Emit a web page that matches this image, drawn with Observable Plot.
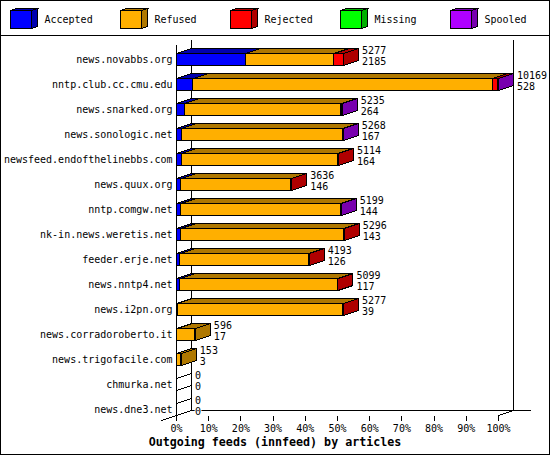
<!DOCTYPE html>
<html><head><meta charset="utf-8">
<script src="https://cdn.jsdelivr.net/npm/d3@7"></script>
<script src="https://cdn.jsdelivr.net/npm/@observablehq/plot@0.6"></script>
<style>
html,body{margin:0;padding:0;background:#fff}
#page{position:relative;width:550px;height:455px;overflow:hidden;font-family:"DejaVu Sans Mono",monospace;color:#000;outline:1px solid #000;outline-offset:-1px}
#legend{position:absolute;left:0;top:0;width:550px;height:36px;border-bottom:1px solid #000;box-sizing:border-box}
.item{position:absolute;top:0;height:35px;font-size:10px}
.item svg{position:absolute;left:0;top:0}
.item span{position:absolute;left:34.5px;top:14px;line-height:12px;white-space:nowrap}
#chart{position:absolute;left:0;top:36px}
#chart svg{display:block;background:transparent}
#title{position:absolute;left:0;width:550px;top:435px;text-align:center;font-size:11.67px;font-weight:bold;line-height:14px}
</style></head>
<body><div id="page"><div id="legend"></div><div id="chart"></div><div id="title"></div></div>
<script>
const hosts = ["news.novabbs.org","nntp.club.cc.cmu.edu","news.snarked.org","news.sonologic.net","newsfeed.endofthelinebbs.com","news.quux.org","nntp.comgw.net","nk-in.news.weretis.net","feeder.erje.net","news.nntp4.net","news.i2pn.org","news.corradoroberto.it","news.trigofacile.com","chmurka.net","news.dne3.net"];
const offered  = [5277,10169,5235,5268,5114,3636,5199,5296,4193,5099,5277,596,153,0,0];
const accepted = [2185,528,264,167,164,146,144,143,126,117,39,17,3,0,0];
const rejected = [300,170,0,0,15,10,0,10,8,12,10,0,0,0,0];
const missing  = [0,0,0,0,0,0,0,0,0,0,0,0,0,0,0];
const spooled  = [0,12,35,20,0,0,12,0,0,0,0,0,0,0,0];
const categories = ["Accepted","Refused","Rejected","Missing","Spooled"];
const faceColors = ["#0000ff","#ffaf00","#ff0000","#00ff00","#af00ff"];
const shadeColors = ["#0000af","#af7800","#af0000","#00af00","#7800af"];
const xTicks = [0,10,20,30,40,50,60,70,80,90,100];
const titleText = "Outgoing feeds (innfeed) by articles";

const maxOffered = d3.max(offered);
const pct = v => v / maxOffered * 100;
const depthX = 15 / 3.22, depthY = 0.2, half = 0.24;

const fronts = [], faces = [], labels = [];
hosts.forEach((host, row) => {
  const refused = offered[row] - accepted[row] - rejected[row] - missing[row] - spooled[row];
  const vals = [accepted[row], refused, rejected[row], missing[row], spooled[row]];
  let cum = 0, lastCat = -1, end = 0;
  vals.forEach((v, cat) => {
    if (v <= 0) return;
    const x1 = pct(cum), x2 = pct(cum + v);
    cum += v; lastCat = cat; end = x2;
    fronts.push({row, x1, x2, fill: faceColors[cat]});
    const id = `top-${row}-${cat}`, t = row - half;
    [[x1,t],[x2,t],[x2+depthX,t-depthY],[x1+depthX,t-depthY],[x1,t]].forEach(([x,y]) =>
      faces.push({id, x, y, fill: shadeColors[cat]}));
  });
  const id = `side-${row}`, t = row - half, b = row + half;
  [[end,t],[end+depthX,t-depthY],[end+depthX,b-depthY],[end,b],[end,t]].forEach(([x,y]) =>
    faces.push({id, x, y, fill: lastCat >= 0 ? shadeColors[lastCat] : "none"}));
  labels.push({row, host, x: end + depthX, a: String(offered[row]), b: String(accepted[row])});
});

const bottomY = 14 + half, backBottom = bottomY - depthY, mono = "DejaVu Sans Mono, monospace";
const chart = Plot.plot({
  width: 550, height: 398,
  marginLeft: 176, marginRight: 52, marginTop: 0, marginBottom: 18,
  style: {fontFamily: mono, fontSize: "10px", color: "#000", background: "transparent"},
  x: {domain: [0,100], range: [176,498]},
  y: {domain: [0,14], range: [23,373], axis: null},
  marks: [
    Plot.ruleX([depthX, 100 + depthX], {y1: -0.76, y2: backBottom, stroke: "#000", shapeRendering: "crispEdges"}),
    Plot.ruleY([backBottom], {x1: depthX, x2: 110.4, stroke: "#000", shapeRendering: "crispEdges"}),
    Plot.line([[-4.66, bottomY + depthY],[depthX, backBottom]], {x: d => d[0], y: d => d[1], stroke: "#000", strokeWidth: 1, shapeRendering: "crispEdges"}),
    Plot.line([[100, bottomY],[100 + depthX, backBottom]], {x: d => d[0], y: d => d[1], stroke: "#000", strokeWidth: 1, shapeRendering: "crispEdges"}),
    Plot.line(faces, {x: "x", y: "y", z: "id", fill: "fill", stroke: "#000", strokeWidth: 1, curve: "linear", shapeRendering: "crispEdges"}),
    Plot.rect(fronts, {x1: "x1", x2: "x2", y1: d => d.row - half, y2: d => d.row + half, fill: "fill", stroke: "#000", shapeRendering: "crispEdges"}),
    Plot.ruleX([0], {y1: -0.58, y2: bottomY, stroke: "#000", shapeRendering: "crispEdges"}),
    Plot.axisX(xTicks, {anchor: "bottom", tickSize: 5, tickPadding: 3, tickFormat: d => d + "%", label: null, fontSize: 10, shapeRendering: "crispEdges"}),
    Plot.text(labels, {x: 0, y: "row", text: "host", textAnchor: "end", dx: -4, fontSize: 10, fill: "#000"}),
    Plot.text(labels, {x: "x", y: "row", text: "a", textAnchor: "start", dx: 3.5, dy: -9, fontSize: 10, fill: "#000"}),
    Plot.text(labels, {x: "x", y: "row", text: "b", textAnchor: "start", dx: 3.5, dy: 2, fontSize: 10, fill: "#000", stroke: "#fff", strokeWidth: 2, paintOrder: "stroke"})
  ]
});
document.getElementById("chart").appendChild(chart);
document.getElementById("title").textContent = titleText;
const legend = document.getElementById("legend");
categories.forEach((name, i) => {
  const el = document.createElement("div");
  el.className = "item";
  el.style.left = (10 + i * 110) + "px";
  el.style.width = "100px";
  el.innerHTML = `<svg width="40" height="35" shape-rendering="crispEdges">
    <polygon points="0.5,10.5 6.5,8.5 28.5,8.5 22.5,10.5" fill="${shadeColors[i]}" stroke="#000"/>
    <polygon points="21.5,10.5 27.5,8.5 27.5,26.5 21.5,28.5" fill="${shadeColors[i]}" stroke="#000"/>
    <rect x="0.5" y="10.5" width="21" height="18" fill="${faceColors[i]}" stroke="#000"/></svg><span>${name}</span>`;
  legend.appendChild(el);
});
</script></body></html>
